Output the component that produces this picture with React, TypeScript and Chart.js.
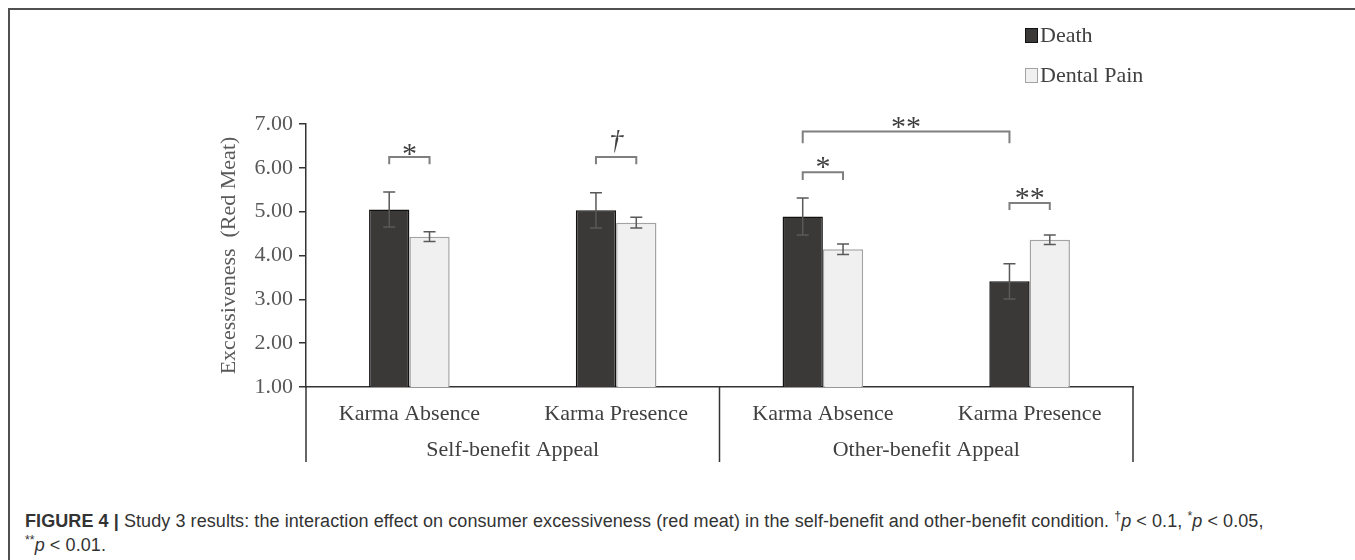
import React, { useEffect, useRef } from 'react';
import { Chart, registerables } from 'chart.js';

Chart.register(...registerables);

// ---- data ----
const categories = ['Karma Absence', 'Karma Presence', 'Karma Absence', 'Karma Presence'];
const groups = ['Self-benefit Appeal', 'Other-benefit Appeal'];
const seriesNames = ['Death', 'Dental Pain'];
const seriesFill = ['#3b3838', '#f0f0f0'];
const seriesBorder = ['#111111', '#a3a3a3'];
const deathValues = [5.05, 5.03, 4.89, 3.41];
const deathErrors = [0.4, 0.4, 0.42, 0.4];
const dentalValues = [4.43, 4.75, 4.14, 4.36];
const dentalErrors = [0.11, 0.12, 0.12, 0.11];
const yMin = 1;
const yMax = 7;
const yTitle = 'Excessiveness  (Red Meat)';

// significance annotations: [categoryIndex, seriesIndex]
const sigLabels = ['*', '\u2020', '**', '*', '**'];
const sigFrom = [[0, 0], [1, 0], [2, 0], [2, 0], [3, 0]];
const sigTo = [[0, 1], [1, 1], [3, 0], [2, 1], [3, 1]];
const sigBarY = [6.25, 6.25, 6.83, 5.9, 5.2];
const sigLegY = [6.08, 6.08, 6.56, 5.72, 5.04];
const sigLabelY = [6.48, 6.61, 7.09, 6.18, 5.47];

const SERIF = '"Liberation Serif", "Times New Roman", serif';

const errorBarPlugin = {
  id: 'errorBars',
  afterDatasetsDraw(chart: any) {
    const ctx = chart.ctx;
    const y = chart.scales.y;
    const vals = [deathValues, dentalValues];
    const errs = [deathErrors, dentalErrors];
    ctx.save();
    ctx.strokeStyle = '#595959';
    ctx.lineWidth = 1.5;
    vals.forEach((arr, di) => {
      const meta = chart.getDatasetMeta(di);
      meta.data.forEach((bar: any, i: number) => {
        const x = bar.x;
        const top = y.getPixelForValue(arr[i] + errs[di][i]);
        const bot = y.getPixelForValue(arr[i] - errs[di][i]);
        ctx.beginPath();
        ctx.moveTo(x, top);
        ctx.lineTo(x, bot);
        ctx.moveTo(x - 6, top);
        ctx.lineTo(x + 6, top);
        ctx.moveTo(x - 6, bot);
        ctx.lineTo(x + 6, bot);
        ctx.stroke();
      });
    });
    ctx.restore();
  },
};

const sigPlugin = {
  id: 'sigBrackets',
  afterDraw(chart: any) {
    const ctx = chart.ctx;
    const y = chart.scales.y;
    ctx.save();
    sigLabels.forEach((lab, k) => {
      const a = chart.getDatasetMeta(sigFrom[k][1]).data[sigFrom[k][0]].x;
      const b = chart.getDatasetMeta(sigTo[k][1]).data[sigTo[k][0]].x;
      const by = y.getPixelForValue(sigBarY[k]);
      const ly = y.getPixelForValue(sigLegY[k]);
      ctx.strokeStyle = '#7f7f7f';
      ctx.lineWidth = 2;
      ctx.beginPath();
      ctx.moveTo(a, ly);
      ctx.lineTo(a, by);
      ctx.lineTo(b, by);
      ctx.lineTo(b, ly);
      ctx.stroke();
      const dagger = lab === '\u2020';
      ctx.fillStyle = '#404040';
      ctx.font = dagger ? 'italic 28px ' + SERIF : '30px ' + SERIF;
      ctx.textAlign = 'center';
      ctx.textBaseline = 'alphabetic';
      ctx.fillText(lab, (a + b) / 2, y.getPixelForValue(sigLabelY[k]) + (dagger ? 8 : 16));
    });
    ctx.restore();
  },
};

const separatorPlugin = {
  id: 'groupSeparators',
  afterDraw(chart: any) {
    const ctx = chart.ctx;
    const xs = chart.scales.x;
    const x2 = chart.scales.x2;
    const top = chart.chartArea.bottom;
    const mid = (xs.getPixelForValue(1) + xs.getPixelForValue(2)) / 2;
    ctx.save();
    ctx.strokeStyle = '#333333';
    ctx.lineWidth = 1.5;
    [xs.left, mid, xs.right].forEach((px) => {
      ctx.beginPath();
      ctx.moveTo(px, top);
      ctx.lineTo(px, x2.bottom);
      ctx.stroke();
    });
    ctx.restore();
  },
};

const supStyle: React.CSSProperties = { fontSize: '0.68em', position: 'relative', top: '-0.55em' };

export default function App() {
  const ref = useRef<HTMLCanvasElement | null>(null);

  useEffect(() => {
    if (!ref.current) return;
    const chart = new Chart(ref.current, {
      type: 'bar',
      data: {
        labels: categories,
        datasets: [
          {
            label: seriesNames[0],
            data: deathValues,
            backgroundColor: seriesFill[0],
            borderColor: seriesBorder[0],
            borderWidth: 1.5,
            categoryPercentage: 0.39,
            barPercentage: 1,
          },
          {
            label: seriesNames[1],
            data: dentalValues,
            backgroundColor: seriesFill[1],
            borderColor: seriesBorder[1],
            borderWidth: 1.5,
            categoryPercentage: 0.39,
            barPercentage: 1,
          },
        ],
      },
      options: {
        responsive: false,
        animation: false,
        devicePixelRatio: 1,
        layout: { padding: { left: 206, right: 222, top: 114, bottom: 38 } },
        plugins: { legend: { display: false }, tooltip: { enabled: false } },
        scales: {
          y: {
            min: yMin,
            max: yMax,
            ticks: {
              stepSize: 1,
              padding: 6,
              color: '#595959',
              font: { family: SERIF, size: 22 },
              callback: (v: any) => Number(v).toFixed(2),
            },
            grid: { display: true, drawOnChartArea: false, drawTicks: true, tickLength: 7, color: '#333333', lineWidth: 1.5 },
            border: { display: true, color: '#333333', width: 1.5 },
            title: { display: true, text: yTitle, color: '#595959', font: { family: SERIF, size: 22 }, padding: 0 },
            afterFit: (s: any) => {
              s.width = 90;
            },
          },
          x: {
            weight: 0,
            ticks: { color: '#404040', font: { family: SERIF, size: 22 }, padding: 14, maxRotation: 0, autoSkip: false },
            grid: { display: false, drawTicks: false },
            border: { display: true, color: '#333333', width: 1.5 },
            afterFit: (s: any) => {
              s.height = 48;
            },
          },
          x2: {
            type: 'category',
            labels: groups,
            position: 'bottom',
            weight: 1,
            offset: true,
            ticks: { color: '#404040', font: { family: SERIF, size: 22 }, padding: 2, maxRotation: 0, autoSkip: false },
            grid: { display: false, drawTicks: false },
            border: { display: false },
            afterFit: (s: any) => {
              s.height = 27;
            },
          },
        },
      } as any,
      plugins: [errorBarPlugin, sigPlugin, separatorPlugin],
    });
    return () => chart.destroy();
  }, []);

  const legendItem = (i: number, top: number) => (
    <div
      key={i}
      style={{
        position: 'absolute',
        left: 1015,
        top,
        height: 26,
        lineHeight: '26px',
        fontFamily: SERIF,
        fontSize: 22,
        color: '#404040',
        whiteSpace: 'nowrap',
        display: 'flex',
        alignItems: 'center',
      }}
    >
      <span
        style={{
          display: 'inline-block',
          width: 11,
          height: 13,
          background: seriesFill[i],
          border: '1px solid ' + seriesBorder[i],
          marginRight: 2,
        }}
      />
      <span>{seriesNames[i]}</span>
    </div>
  );

  return (
    <div
      style={{
        position: 'absolute',
        left: 8,
        top: 8,
        right: 0,
        height: 552,
        boxSizing: 'border-box',
        borderTop: '2px solid #505050',
        borderLeft: '2px solid #505050',
        background: '#ffffff',
      }}
    >
      <canvas ref={ref} width={1345} height={490} style={{ position: 'absolute', left: 0, top: 0, width: 1345, height: 490 }} />
      {legendItem(0, 12)}
      {legendItem(1, 52)}
      <div
        style={{
          position: 'absolute',
          left: 15,
          top: 500,
          fontFamily: '"Liberation Sans", Arial, sans-serif',
          fontSize: 18,
          letterSpacing: '0.08px',
          lineHeight: '22px',
          color: '#333333',
          whiteSpace: 'nowrap',
        }}
      >
        <b>FIGURE 4 |</b> Study 3 results: the interaction effect on consumer excessiveness (red meat) in the self-benefit and
        other-benefit condition. <span style={supStyle}>†</span>
        <i>p</i> &lt; 0.1, <span style={supStyle}>*</span>
        <i>p</i> &lt; 0.05,
        <br />
        <span style={supStyle}>**</span>
        <i>p</i> &lt; 0.01.
      </div>
    </div>
  );
}
